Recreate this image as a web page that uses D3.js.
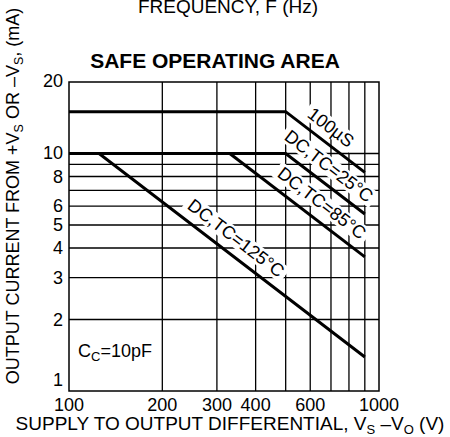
<!DOCTYPE html>
<html>
<head>
<meta charset="utf-8">
<script src="https://cdn.jsdelivr.net/npm/d3@7"></script>
<style>
  body { margin: 0; background: #fff; }
  svg text { font-family: "Liberation Sans", Arial, sans-serif; fill: #000; }
</style>
</head>
<body>
<div id="chart"></div>
<script>
// axis ticks and grid
const xTicks = [100, 200, 300, 400, 600, 1000];
const yTicks = [1, 2, 3, 4, 5, 6, 8, 10, 20];
const xGrid = [200, 300, 400, 500, 600, 700, 800, 900];
const yGrid = [2, 3, 4, 5, 6, 7, 8, 9, 10];

// SOA limit curves: [volts, mA]
const curveNames = ["100µS", "DC,TC=25°C", "DC,TC=85°C", "DC,TC=125°C"];
const curve100us = [[100, 15], [500, 15], [900, 8.33]];
const curveDC25 = [[100, 10], [500, 10], [900, 5.56]];
const curveDC85 = [[330, 10], [900, 3.67]];
const curveDC125 = [[100, 10], [125, 10], [900, 1.39]];
const curves = [curve100us, curveDC25, curveDC85, curveDC125];

const width = 450, height = 437;
const margin = { top: 82, right: 71, bottom: 46, left: 69 };

const svg = d3.select("#chart").append("svg")
    .attr("width", width)
    .attr("height", height);

const x = d3.scaleLog().domain([100, 1000]).range([margin.left, width - margin.right]);
const y = d3.scaleLog().domain([1, 20]).range([height - margin.bottom, margin.top]);

// grid
svg.append("g").selectAll("line").data(xGrid).join("line")
    .attr("x1", d => x(d)).attr("x2", d => x(d))
    .attr("y1", y(1)).attr("y2", y(20))
    .attr("stroke", "#000").attr("stroke-width", 1.3);

svg.append("g").selectAll("line").data(yGrid).join("line")
    .attr("x1", x(100)).attr("x2", x(1000))
    .attr("y1", d => y(d)).attr("y2", d => y(d))
    .attr("stroke", "#000").attr("stroke-width", 1.3);

// curves
const line = d3.line().x(d => x(d[0])).y(d => y(d[1]));
svg.append("g").selectAll("path").data(curves).join("path")
    .attr("d", line)
    .attr("fill", "none")
    .attr("stroke", "#000")
    .attr("stroke-width", 3);

// rotated curve labels with white backing, anchored in data units
const angle = Math.atan2(y(1) - y(10), x(1000) - x(100)) * 180 / Math.PI;
const labelAnchors = [[700, 12.9], [690, 8.86], [655, 6.19], [346, 4.41]];

curveNames.forEach((name, i) => {
    const g = svg.append("g")
        .attr("transform", `translate(${x(labelAnchors[i][0])},${y(labelAnchors[i][1])}) rotate(${angle})`);
    const bg = g.append("rect").attr("fill", "#fff");
    const t = g.append("text")
        .attr("text-anchor", "middle")
        .attr("dy", "0.35em")
        .attr("font-size", 18)
        .text(name);
    const b = t.node().getBBox();
    bg.attr("x", b.x - 4).attr("y", b.y + 1)
        .attr("width", b.width + 8).attr("height", b.height - 2);
});

// frame
svg.append("rect")
    .attr("x", x(100)).attr("y", y(20))
    .attr("width", x(1000) - x(100)).attr("height", y(1) - y(20))
    .attr("fill", "none").attr("stroke", "#000").attr("stroke-width", 1.5);

// tick labels
svg.append("g").selectAll("text").data(xTicks).join("text")
    .attr("x", d => x(d))
    .attr("y", y(1) + 20)
    .attr("text-anchor", "middle")
    .attr("font-size", 18)
    .text(d => d);

svg.append("g").selectAll("text").data(yTicks).join("text")
    .attr("x", x(100) - 6)
    .attr("y", d => d === 20 ? y(d) + 5 : d === 1 ? y(d) - 5 : y(d) + 6)
    .attr("text-anchor", "end")
    .attr("font-size", 18)
    .text(d => d);

// titles
svg.append("text")
    .attr("x", 228).attr("y", 13)
    .attr("text-anchor", "middle")
    .attr("font-size", 19)
    .text("FREQUENCY, F (Hz)");

svg.append("text")
    .attr("x", 215).attr("y", 68)
    .attr("text-anchor", "middle")
    .attr("font-size", 21)
    .attr("font-weight", "bold")
    .text("SAFE OPERATING AREA");

const xl = svg.append("text")
    .attr("x", 230).attr("y", 430)
    .attr("text-anchor", "middle")
    .attr("font-size", 19);
xl.append("tspan").text("SUPPLY TO OUTPUT DIFFERENTIAL, V");
xl.append("tspan").attr("font-size", 13).attr("dy", 4).text("S");
xl.append("tspan").attr("dy", -4).text(" –V");
xl.append("tspan").attr("font-size", 13).attr("dy", 4).text("O");
xl.append("tspan").attr("dy", -4).text(" (V)");

const yl = svg.append("text")
    .attr("transform", `translate(19,196) rotate(-90)`)
    .attr("text-anchor", "middle")
    .attr("font-size", 18);
yl.append("tspan").text("OUTPUT CURRENT FROM +V");
yl.append("tspan").attr("font-size", 12.5).attr("dy", 4).text("S");
yl.append("tspan").attr("dy", -4).text(" OR –V");
yl.append("tspan").attr("font-size", 12.5).attr("dy", 4).text("S");
yl.append("tspan").attr("dy", -4).text(", (mA)");

const cc = svg.append("text")
    .attr("x", 78).attr("y", 357)
    .attr("font-size", 18);
cc.append("tspan").text("C");
cc.append("tspan").attr("font-size", 13).attr("dy", 4).text("C");
cc.append("tspan").attr("dy", -4).text("=10pF");
</script>
</body>
</html>
